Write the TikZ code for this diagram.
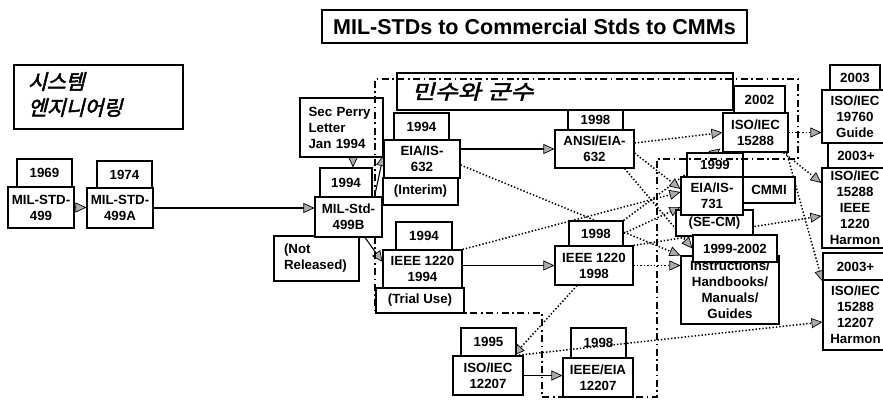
\documentclass[tikz,border=0pt]{standalone}
\usepackage{fontspec}
\setmainfont{Liberation Sans}
\newfontfamily\kr[FakeSlant=0.25,FakeBold=2.5]{Noto Sans CJK KR}
\newfontfamily\krw[FakeSlant=0.25,FakeBold=2.5,FakeStretch=1.25]{Noto Sans CJK KR}
\usetikzlibrary{arrows.meta,calc}
\pgfdeclarelayer{bg}
\pgfsetlayers{bg,main}
\tikzset{
 bx/.style={draw, fill=white, line width=1.1pt, inner sep=0pt, align=center, font=\bfseries\fontsize{13.3}{16}\selectfont},
 lbx/.style={bx, align=left},
 tipx/.style={-{Triangle[length=11pt,width=10pt,fill=gray!65,line width=0.7pt]}},
 solidc/.style={line width=1.1pt, tipx},
 dotc/.style={line width=1.5pt, dash pattern=on 1.4pt off 2pt, tipx},
 dashdot/.style={line width=1.6pt, dash pattern=on 7pt off 3.5pt on 1.6pt off 3.5pt},
}
\begin{document}
\begin{tikzpicture}[x=1pt,y=-1pt]
\useasboundingbox (0,0) rectangle (883,401);

% title and labels
\node[bx, font=\bfseries\fontsize{21.5}{24}\selectfont, minimum width=425pt, minimum height=33pt] (title) at (534.5,26.5) {MIL-STDs to Commercial Stds to CMMs};
\node[bx, align=left, font=\kr\fontsize{20.5}{26}\selectfont, text width=141pt, inner xsep=14pt, minimum height=64pt] (se) at (98.5,97) {\begin{tabular}{@{}l@{}}시스템\\엔지니어링\end{tabular}};
\node[draw, line width=1.1pt, align=left, font=\krw\fontsize{20}{24}\selectfont, text width=306pt, inner xsep=15pt, inner ysep=0pt, minimum height=37pt] (civ) at (565,91.5) {민수와 군수};

% left chain
\node[bx, minimum width=55pt, minimum height=28pt] (y1969) at (44.5,173) {1969};
\node[bx, minimum width=66pt, minimum height=41pt] (m499) at (41,207.5) {MIL-STD-\\499};
\node[bx, minimum width=55pt, minimum height=27pt] (y1974) at (124.5,174.5) {1974};
\node[bx, minimum width=66pt, minimum height=40pt] (m499a) at (120,208) {MIL-STD-\\499A};
\node[lbx, text width=66pt, inner xsep=8.5pt, minimum height=59pt] (perry) at (341.5,127.5) {Sec Perry\\Letter\\Jan 1994};
\node[bx, minimum width=52pt, minimum height=29pt] (y1994a) at (346,182.5) {1994};
\node[lbx, text width=65pt, inner xsep=10pt, minimum height=45pt] (notrel) at (316.5,258.5) {(Not\\Released)};

% EIA 632 chain
\node[bx, minimum width=55pt, minimum height=27pt] (y1994b) at (421.5,126.5) {1994};
\node[bx, minimum width=76pt, minimum height=38pt] (eia632) at (422,159) {EIA/IS-\\632};
\node[bx, minimum width=75pt, minimum height=27pt] (interim) at (420.5,191.5) {(Interim)};
\node[bx, minimum width=55pt, minimum height=20pt] (y1998a) at (595.5,120) {1998};
\node[bx, minimum width=79pt, minimum height=38pt] (ansi) at (594.5,149) {ANSI/EIA-\\632};

% IEEE 1220 chain
\node[bx, minimum width=56pt, minimum height=28pt] (y1994c) at (424,236) {1994};
\node[bx, minimum width=79pt, minimum height=38pt] (ieee94) at (422.5,269) {IEEE 1220\\1994};
\node[bx, minimum width=88pt, minimum height=25pt] (trial) at (420,300.5) {(Trial Use)};
\node[bx, minimum width=54pt, minimum height=25pt] (y1998b) at (596,233.5) {1998};
\node[bx, minimum width=78pt, minimum height=39pt] (ieee98) at (594,265.5) {IEEE 1220\\1998};

% 12207 chain
\node[bx, minimum width=55pt, minimum height=28pt] (y1995) at (488.5,342) {1995};
\node[bx, minimum width=70pt, minimum height=39pt] (iso12207) at (488,375.5) {ISO/IEC\\12207};
\node[bx, minimum width=55pt, minimum height=30pt] (y1998c) at (598.5,343) {1998};
\node[bx, minimum width=70pt, minimum height=39pt] (ieeeeia) at (598,377.5) {IEEE/EIA\\12207};

% 15288
\node[bx, minimum width=51pt, minimum height=27pt] (y2002) at (759.5,99.5) {2002};
\node[bx, minimum width=65pt, minimum height=39pt] (iso15288) at (755.5,132.5) {ISO/IEC\\15288};

% CMMI group
\node[bx, minimum width=56pt, minimum height=24pt] (y1999) at (715,165) {1999};
\node[bx, minimum width=77pt, minimum height=26pt] (secm) at (714.5,223) {(SE-CM)};
\node[bx, minimum width=62pt, minimum height=38pt] (eia731) at (712,196) {EIA/IS-\\731};
\node[bx, minimum width=52pt, minimum height=26pt] (cmmi) at (769,190) {CMMI};
\node[bx, minimum width=98pt, minimum height=68pt] (instr) at (730,290) {Instructions/\\Handbooks/\\Manuals/\\Guides};
\node[bx, minimum width=84pt, minimum height=27pt] (y9902) at (735,248.5) {1999-2002};

% right column
\node[bx, minimum width=50pt, minimum height=25pt] (y2003) at (855,77.5) {2003};
\node[bx, minimum width=66pt, minimum height=53pt] (iso19760) at (855,116.5) {ISO/IEC\\19760\\Guide};
\node[bx, minimum width=56pt, minimum height=25pt] (y2003p1) at (856,155.5) {2003+};
\node[bx, minimum width=66pt, minimum height=80pt] (harm1220) at (855,208) {ISO/IEC\\15288\\IEEE\\1220\\Harmon};
\node[bx, minimum width=65pt, minimum height=27pt] (y2003p2) at (855.5,266.5) {2003+};
\node[bx, minimum width=65pt, minimum height=70pt] (harm12207) at (855.5,315) {ISO/IEC\\15288\\12207\\Harmon};

% civil & military region
\draw[dashdot] (375,197) -- (375,79) -- (798,79) -- (798,159) -- (657,159) -- (657,397) -- (542,397) -- (542,313) -- (375,313) -- (375,237);

% MIL-Std-499B drawn above the region line
\node[bx, minimum width=67pt, minimum height=40pt] (m499b) at (348.5,217) {MIL-Std-\\499B};

\begin{pgfonlayer}{bg}
\fill[white] (0,0) rectangle (883,401);
\draw[solidc] (m499.east) -- (m499.east -| m499a.west);
\draw[solidc] (m499a.east) -- (m499a.east -| m499b.west);
\draw[solidc] ([xshift=11.5pt]perry.south) -- ([xshift=11.5pt]perry.south |- y1994a.north);
\draw[solidc] ([xshift=-8pt]m499b.north east) -- ([yshift=4pt]eia632.west);
\draw[solidc] ([xshift=16.5pt]m499b.south) -- ([yshift=7pt]ieee94.west);
\draw[solidc] (eia632.east |- ansi.west) -- (ansi.west);
\draw[solidc] (ieee94.east |- ieee98.west) -- (ieee98.west);
\draw[solidc] (iso12207.east) -- (iso12207.east -| ieeeeia.west);

\draw[dotc] ([yshift=6pt]ansi.east) -- (iso15288.west);
\draw[dotc] (y1998b.north east) -- ([xshift=-2pt,yshift=4pt]iso15288.south west);
\draw[dotc] (y1998b.east) -- ([yshift=-11pt]eia731.west);
\draw[dotc] (ieee94.north east) -- ([yshift=4pt]eia731.west);
\draw[dotc] ([yshift=-4pt]ansi.east) -- ([yshift=7pt]eia731.west);
\draw[dotc] ([yshift=-6pt]eia632.east) -- (instr.north west);
\draw[dotc] ([xshift=30pt]ansi.south) -- (y9902.west);
\draw[dotc] (ieee98.east) -- (ieee98.east -| instr.west);
\draw[dotc] (ieee98.north east) -- ([yshift=-8pt]harm1220.west);
\draw[dotc] ([xshift=-17pt]ieee98.south) -- ([xshift=-10pt]iso12207.north east);
\draw[dotc] (iso15288.east) -- (iso15288.east -| iso19760.west);
\draw[dotc] ([xshift=-5pt]iso15288.south east) -- ([yshift=25pt]harm1220.west);
\draw[dotc] ([xshift=-2pt]iso15288.south east) -- ([yshift=-2pt]harm12207.north west);
\end{pgfonlayer}

\draw[dotc] ([xshift=-8pt]iso12207.north east) -- ([yshift=-7pt]harm12207.west);
\end{tikzpicture}
\end{document}
